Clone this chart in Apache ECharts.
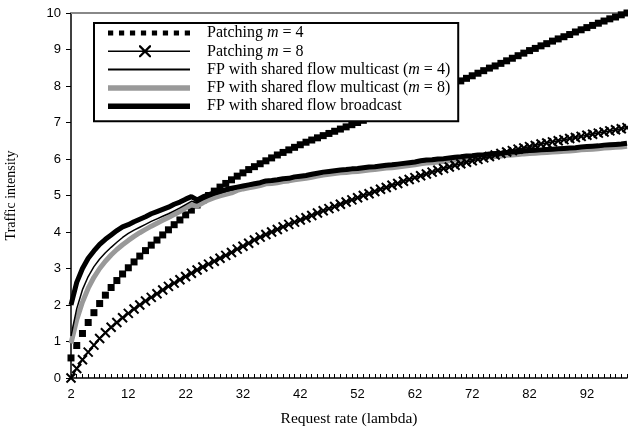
<!DOCTYPE html>
<html>
<head>
<meta charset="utf-8">
<script src="https://cdn.jsdelivr.net/npm/echarts@6/dist/echarts.min.js"></script>
<style>
  html, body { margin: 0; padding: 0; background: #fff; }
  #chart { width: 628px; height: 430px; }
</style>
</head>
<body>
<div id="chart"></div>
<script>
// request rate (lambda) 2..99
var lambdas = [2,3,4,5,6,7,8,9,10,11,12,13,14,15,16,17,18,19,20,21,22,23,24,25,26,27,28,29,30,31,
  32,33,34,35,36,37,38,39,40,41,42,43,44,45,46,47,48,49,50,51,52,53,54,55,56,57,58,59,60,61,
  62,63,64,65,66,67,68,69,70,71,72,73,74,75,76,77,78,79,80,81,82,83,84,85,86,87,88,89,90,91,
  92,93,94,95,96,97,98,99];

var names = [
  'Patching m = 4',
  'Patching m = 8',
  'FP with shared flow multicast (m = 4)',
  'FP with shared flow multicast (m = 8)',
  'FP with shared flow broadcast'
];

var patching4 = [0.55,0.89,1.22,1.52,1.79,2.04,2.27,2.48,2.67,2.85,
  3.02,3.18,3.34,3.49,3.64,3.78,3.92,4.06,4.20,4.33,
  4.47,4.60,4.74,4.87,5.00,5.12,5.23,5.33,5.43,5.53,
  5.62,5.71,5.79,5.87,5.95,6.03,6.11,6.18,6.25,6.32,
  6.39,6.46,6.52,6.58,6.64,6.70,6.76,6.82,6.88,6.94,
  7.00,7.06,7.12,7.18,7.24,7.30,7.37,7.43,7.49,7.55,
  7.61,7.68,7.74,7.80,7.87,7.94,8.00,8.07,8.14,8.21,
  8.28,8.35,8.42,8.49,8.55,8.62,8.69,8.76,8.83,8.90,
  8.97,9.03,9.10,9.16,9.23,9.29,9.35,9.41,9.48,9.54,
  9.60,9.66,9.72,9.78,9.84,9.89,9.95,10.0];

var patching8 = [0.00,0.26,0.50,0.71,0.90,1.08,1.24,1.39,1.52,1.65,
  1.77,1.89,2.00,2.11,2.21,2.31,2.41,2.51,2.60,2.69,
  2.78,2.87,2.96,3.04,3.12,3.20,3.28,3.36,3.44,3.53,
  3.61,3.69,3.78,3.86,3.93,4.00,4.07,4.14,4.21,4.27,
  4.33,4.39,4.45,4.52,4.58,4.64,4.70,4.76,4.82,4.88,
  4.94,5.00,5.05,5.11,5.17,5.22,5.28,5.33,5.39,5.44,
  5.49,5.54,5.59,5.64,5.69,5.74,5.78,5.83,5.87,5.91,
  5.95,5.99,6.03,6.07,6.11,6.15,6.19,6.23,6.27,6.30,
  6.34,6.37,6.41,6.44,6.47,6.50,6.53,6.56,6.59,6.62,
  6.65,6.68,6.71,6.74,6.77,6.80,6.83,6.86];

var fpMulti4 = [1.15,1.90,2.42,2.78,3.05,3.26,3.43,3.58,3.72,3.85,
  3.96,4.05,4.13,4.21,4.29,4.36,4.43,4.50,4.58,4.66,
  4.75,4.84,4.80,4.88,4.95,5.01,5.06,5.11,5.15,
  5.20,5.23,5.26,5.29,5.32,5.36,5.38,5.40,5.43,5.45,
  5.48,5.50,5.52,5.55,5.58,5.61,5.63,5.65,5.67,5.68,
  5.70,5.71,5.73,5.75,5.76,5.78,5.80,5.81,5.83,5.85,
  5.87,5.89,5.92,5.94,5.95,5.97,5.98,6.00,6.02,6.03,
  6.05,6.06,6.08,6.09,6.11,6.12,6.13,6.15,6.16,6.17,
  6.19,6.20,6.21,6.22,6.23,6.24,6.25,6.26,6.27,6.28,
  6.30,6.31,6.32,6.33,6.35,6.36,6.37,6.38,6.40];

var fpMulti8 = [0.95,1.60,2.08,2.46,2.76,3.00,3.20,3.37,3.52,3.65,
  3.77,3.88,3.98,4.07,4.16,4.24,4.32,4.40,4.48,4.56,
  4.66,4.74,4.71,4.80,4.88,4.94,4.99,5.03,5.07,
  5.14,5.18,5.21,5.24,5.27,5.32,5.33,5.35,5.38,5.40,
  5.43,5.45,5.47,5.50,5.53,5.56,5.58,5.60,5.62,5.63,
  5.65,5.66,5.68,5.70,5.71,5.73,5.75,5.76,5.78,5.80,
  5.82,5.84,5.87,5.89,5.90,5.92,5.93,5.95,5.97,5.98,
  6.00,6.01,6.03,6.04,6.06,6.07,6.08,6.10,6.11,6.12,
  6.14,6.15,6.16,6.17,6.18,6.19,6.20,6.21,6.22,6.23,
  6.25,6.26,6.27,6.28,6.30,6.31,6.32,6.33,6.35];

var fpBroadcast = [2.00,2.62,3.00,3.28,3.48,3.66,3.80,3.92,4.04,4.14,
  4.20,4.28,4.35,4.42,4.50,4.56,4.62,4.68,4.76,4.82,
  4.90,4.97,4.88,4.96,5.02,5.08,5.12,5.16,5.20,
  5.23,5.26,5.29,5.32,5.35,5.40,5.41,5.43,5.46,5.47,
  5.51,5.53,5.55,5.58,5.61,5.64,5.66,5.68,5.70,5.71,
  5.73,5.74,5.76,5.78,5.79,5.81,5.83,5.84,5.86,5.88,
  5.90,5.92,5.95,5.97,5.98,6.00,6.01,6.03,6.05,6.06,
  6.08,6.09,6.11,6.12,6.14,6.15,6.16,6.18,6.19,6.20,
  6.22,6.23,6.24,6.25,6.26,6.27,6.28,6.29,6.30,6.31,
  6.33,6.34,6.35,6.36,6.38,6.39,6.40,6.41,6.43];

var serif = 'Liberation Serif';
var sans = 'Liberation Sans';

// legend icons drawn as filled paths (82 wide)
var squaresIcon = 'path://M0,0h5v5h-5zM10.5,0h5v5h-5zM21,0h5v5h-5zM31.5,0h5v5h-5z' +
  'M42,0h5v5h-5zM52.5,0h5v5h-5zM63,0h5v5h-5zM73.5,0h5v5h-5z';
var crossLineIcon = 'path://M0,5.2h82v1.6h-82z' +
  'M31,0L32.6,0L43,10.4L43,12L41.4,12L31,1.6Z' +
  'M43,0L43,1.6L32.6,12L31,12L31,10.4L41.4,0Z';
var thinIcon = 'path://M0,0h82v2h-82z';
var grayIcon = 'path://M0,0h82v5.5h-82z';
var thickIcon = 'path://M0,0h82v5.5h-82z';
var crossSymbol = 'path://M0,0L10,10M10,0L0,10';

var chart = echarts.init(document.getElementById('chart'));

var option = {
  animation: false,
  backgroundColor: '#fff',
  grid: {
    left: 71,
    right: 1,
    top: 13,
    bottom: 52,
    outerBoundsMode: 'none'
  },
  legend: {
    orient: 'vertical',
    left: 94,
    top: 23,
    itemWidth: 82,
    itemHeight: 14,
    itemGap: 2.3,
    padding: [2, 8, 7, 14],
    borderColor: '#000',
    borderWidth: 2,
    backgroundColor: '#fff',
    selectedMode: false,
    itemStyle: { borderWidth: 0 },
    data: [
      { name: names[0], icon: squaresIcon, itemStyle: { color: '#000' } },
      { name: names[1], icon: crossLineIcon, itemStyle: { color: '#000' } },
      { name: names[2], icon: thinIcon, itemStyle: { color: '#000' } },
      { name: names[3], icon: grayIcon, itemStyle: { color: '#999' } },
      { name: names[4], icon: thickIcon, itemStyle: { color: '#000' } }
    ],
    formatter: function (name) {
      return name.replace('m =', '{i|m} =');
    },
    textStyle: {
      fontFamily: serif,
      fontSize: 16,
      color: '#000',
      padding: [0, 0, 0, 12],
      rich: {
        i: { fontFamily: serif, fontSize: 16, fontStyle: 'italic', color: '#000' }
      }
    }
  },
  xAxis: [{
    type: 'category',
    data: lambdas,
    boundaryGap: false,
    name: 'Request rate (lambda)',
    nameLocation: 'middle',
    nameGap: 33,
    nameTextStyle: { fontFamily: serif, fontSize: 15.5, color: '#000' },
    axisLine: { lineStyle: { color: '#000', width: 1.5 } },
    axisTick: { inside: true, interval: 0, length: 4, lineStyle: { color: '#000' } },
    axisLabel: { interval: 9, margin: 10, fontFamily: sans, fontSize: 13, color: '#000' },
    splitLine: { show: false }
  }, {
    type: 'category',
    position: 'top',
    data: lambdas,
    boundaryGap: false,
    axisLine: { lineStyle: { color: '#888', width: 2 } },
    axisTick: { show: false },
    axisLabel: { show: false },
    splitLine: { show: false }
  }],
  yAxis: {
    type: 'value',
    min: 0,
    max: 10,
    interval: 1,
    name: 'Traffic intensity',
    nameLocation: 'middle',
    nameGap: 53,
    nameTextStyle: { fontFamily: serif, fontSize: 14, color: '#000' },
    axisLine: { show: true, lineStyle: { color: '#000', width: 1.5 } },
    axisTick: { show: true, length: 5, lineStyle: { color: '#000' } },
    axisLabel: { margin: 10, fontFamily: sans, fontSize: 13, color: '#000' },
    splitLine: { show: false }
  },
  series: [
    {
      name: names[3],
      type: 'line',
      data: fpMulti8,
      symbol: 'none',
      lineStyle: { color: '#999', width: 5 },
      itemStyle: { color: '#999' }
    },
    {
      name: names[4],
      type: 'line',
      data: fpBroadcast,
      symbol: 'none',
      lineStyle: { color: '#000', width: 5 },
      itemStyle: { color: '#000' }
    },
    {
      name: names[2],
      type: 'line',
      data: fpMulti4,
      symbol: 'none',
      lineStyle: { color: '#000', width: 1.5 },
      itemStyle: { color: '#000' }
    },
    {
      name: names[0],
      type: 'scatter',
      data: patching4,
      symbol: 'rect',
      symbolSize: 7,
      itemStyle: { color: '#000', opacity: 1 }
    },
    {
      name: names[1],
      type: 'line',
      data: patching8,
      symbol: crossSymbol,
      symbolSize: 9,
      showSymbol: true,
      showAllSymbol: true,
      lineStyle: { color: '#000', width: 1.5 },
      itemStyle: { color: 'none', borderColor: '#000', borderWidth: 2 }
    }
  ]
};

chart.setOption(option);
</script>
</body>
</html>
